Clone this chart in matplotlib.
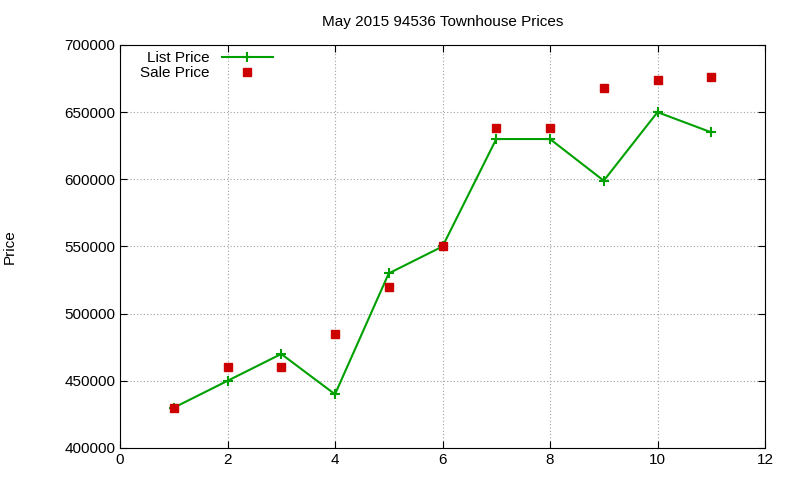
import matplotlib
matplotlib.use("Agg")
from matplotlib import pyplot as plt
from matplotlib.ticker import MultipleLocator

months = [1, 2, 3, 4, 5, 6, 7, 8, 9, 10, 11]
list_price = [430000, 450000, 470000, 440000, 530000, 550000, 630000, 630000, 599000, 650000, 635000]
sale_price = [430000, 460000, 460000, 485000, 520000, 550000, 638000, 638000, 668000, 674000, 676000]

plt.rcParams["font.family"] = ["Liberation Sans", "DejaVu Sans"]

fig = plt.figure(figsize=(8, 4.8), dpi=100)
axis = fig.add_axes([120 / 800, 32 / 480, 645 / 800, 403 / 480])

axis.plot(months, list_price, color="#00a000", linewidth=1.5, marker="+",
          markersize=7, markeredgewidth=1.5, label="List Price")
axis.plot(months, sale_price, linestyle="none", color="#cc0000", marker="s",
          markersize=6, label="Sale Price")

axis.set_xlim(0, 12)
axis.set_ylim(400000, 700000)
axis.xaxis.set_major_locator(MultipleLocator(2))
axis.yaxis.set_major_locator(MultipleLocator(50000))
axis.grid(True, color="#a0a0a0", linestyle=(0, (1, 2)), linewidth=0.8)
axis.tick_params(direction="in", top=True, right=True, labelsize=11, length=5)
axis.set_title("May 2015 94536 Townhouse Prices", fontsize=11, pad=14)
axis.set_ylabel("Price", fontsize=11, labelpad=34)

axis.legend(loc="upper left", bbox_to_anchor=(0.015, 1.012), markerfirst=False,
            frameon=False, fontsize=11, handlelength=3.3, borderaxespad=0.3,
            labelspacing=0.1)

fig.savefig("out.png", dpi=100)
